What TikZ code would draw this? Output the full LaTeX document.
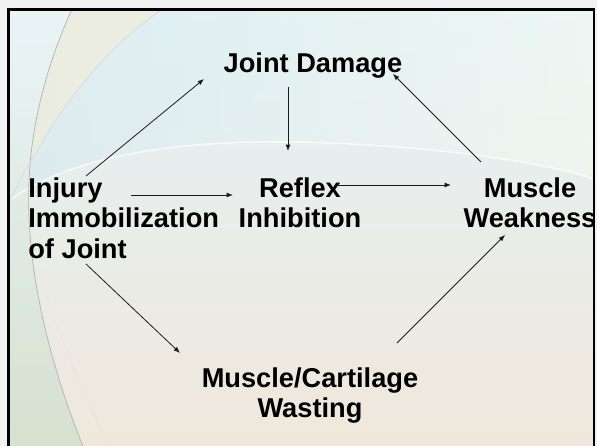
\documentclass[tikz,border=0pt]{standalone}
\usepackage{fontspec}
\setmainfont{Liberation Sans}
\usetikzlibrary{arrows.meta,calc}
\definecolor{skyc}{HTML}{D3E9F0}
\definecolor{mintc}{HTML}{F6FBF2}
\definecolor{sandc}{HTML}{EFE7DB}
\definecolor{creamc}{HTML}{F1EDDA}
\definecolor{tealc}{HTML}{B2D7E4}
\definecolor{sagec}{HTML}{D6E0CE}
\definecolor{arrowc}{HTML}{1A1A1A}
\tikzset{
  boxtext/.style={font=\bfseries\fontsize{15.5}{17.4}\selectfont, inner sep=0pt, text=black},
  link/.style={draw=arrowc, line width=0.45pt, -{Latex[length=3.6pt,width=2.8pt]}}
}

\begin{document}
\begin{tikzpicture}
  \useasboundingbox (0,0) rectangle (11.94,8.92);
  \clip (0,0) rectangle (11.94,8.92);
  \fill[black!5] (0,0) rectangle (11.94,8.92);
  % slide background
  \shade[top color=skyc!60!white, middle color=white!97!sandc, bottom color=sandc] (0.17,-0.2) rectangle (11.88,8.73);
  \shade[left color=skyc, right color=mintc, opacity=0.5] (0.17,8.73) -- (11.88,8.73) -- (11.88,5.32)
    .. controls (10.8,5.72) and (8.4,6.02) .. (6.0,6.08)
    .. controls (4.0,6.12) and (1.6,5.92) .. (0.20,4.92) -- cycle;
  \fill[creamc, opacity=0.7] (0.17,8.73) -- (3.26,8.74)
    .. controls (2.00,7.92) and (1.00,6.52) .. (0.20,4.92) -- cycle;
  \shade[top color=skyc!50!white, middle color=tealc, bottom color=sagec] (0.17,8.74) -- (1.44,8.74)
    .. controls (0.80,7.32) and (0.52,5.92) .. (0.58,4.62)
    .. controls (0.62,3.12) and (1.10,1.32) .. (1.74,-0.2) -- (0.17,-0.2) -- cycle;
  % decorative curves
  \draw[white, line width=0.9pt, opacity=0.7] (0.20,4.92) .. controls (1.6,5.92) and (4.0,6.12) .. (6.0,6.08)
    .. controls (8.4,6.02) and (10.8,5.72) .. (11.94,5.32);
  \draw[black!30, line width=0.4pt] (1.44,8.74) .. controls (0.80,7.32) and (0.52,5.92) .. (0.58,4.62)
    .. controls (0.62,3.12) and (1.10,1.32) .. (1.74,-0.2);
  \draw[black!15, line width=0.4pt] (3.26,8.74) .. controls (2.00,7.92) and (1.00,6.52) .. (0.20,4.92);
  \draw[black!10, line width=0.4pt] (0.80,3.52) .. controls (1.10,2.32) and (1.70,0.92) .. (2.30,-0.2);
  % frame
  \draw[black, line width=1.2pt] (0.17,-0.3) |- (11.88,8.73) -- (11.88,-0.3);
  \draw[black, line width=1.8pt] (0.17,-0.3) -- (0.17,8.75);
  % nodes
  \node[boxtext, anchor=north] (jd) at (6.26,7.88) {Joint Damage};
  \node[boxtext, anchor=north west, align=left] (inj) at (0.56,5.38) {Injury\\Immobilization\\of Joint};
  \node[boxtext, anchor=north, align=center] (rfx) at (6.00,5.38) {Reflex\\Inhibition};
  \node[boxtext, anchor=north, align=center] (mw) at (10.60,5.38) {Muscle\\Weakness};
  \node[boxtext, anchor=north, align=center] (mcw) at (6.20,1.58) {Muscle/Cartilage\\Wasting};
  % connectors
  \draw[link] ($(inj.north west)+(1.16,0.02)$) -- ($(jd.north)+(-2.18,-0.54)$);
  \draw[link] ($(jd.north)+(-0.50,-0.70)$) -- ($(rfx.north)+(-0.24,0.52)$);
  \draw[link] ($(inj.north west)+(2.06,-0.36)$) -- ($(rfx.north)+(-1.34,-0.36)$);
  \draw[link] ($(rfx.north)+(0.68,-0.16)$) -- ($(mw.north)+(-1.58,-0.16)$);
  \draw[link] ($(mw.north)+(-0.98,0.30)$) -- ($(jd.north)+(1.60,-0.44)$);
  \draw[link] ($(inj.north west)+(1.16,-1.74)$) -- ($(mcw.north)+(-2.60,0.28)$);
  \draw[link] ($(mcw.north)+(1.74,0.48)$) -- ($(mw.north)+(-0.50,-1.16)$);
\end{tikzpicture}
\end{document}
